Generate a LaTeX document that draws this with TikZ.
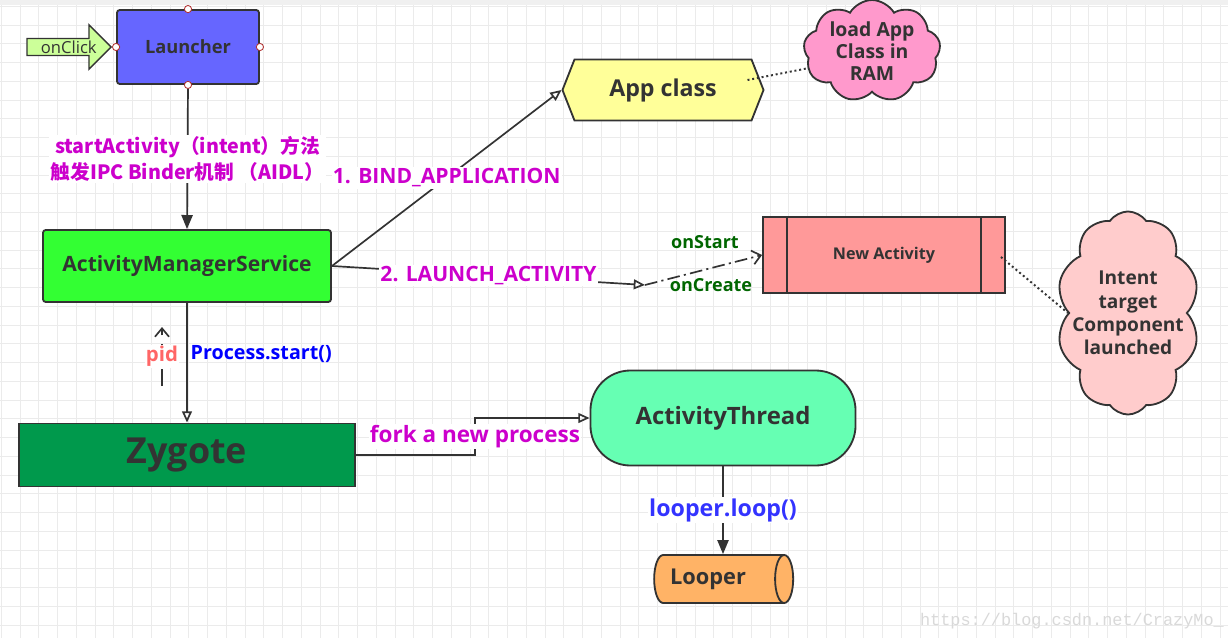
\documentclass[tikz,border=0pt]{standalone}
\usepackage{fontspec}
\setmainfont{Open Sans}
\newfontfamily\cjk{Noto Sans CJK SC}
\setmonofont{Liberation Mono}
\usetikzlibrary{arrows.meta,shapes.geometric,shapes.symbols,shapes.arrows,calc}

\definecolor{ink}{HTML}{333333}
\definecolor{gridgray}{HTML}{EBEBEB}
\definecolor{launcherblue}{HTML}{6666FF}
\definecolor{amsgreen}{HTML}{33FF33}
\definecolor{zygotegreen}{HTML}{00994C}
\definecolor{atgreen}{HTML}{66FFB3}
\definecolor{looperorange}{HTML}{FFB366}
\definecolor{newactred}{HTML}{FF9999}
\definecolor{appyellow}{HTML}{FFFF99}
\definecolor{ramcloud}{HTML}{FF99CC}
\definecolor{intentcloud}{HTML}{FFCCCC}
\definecolor{clickgreen}{HTML}{CCFF99}
\definecolor{handlered}{HTML}{B03030}
\definecolor{lblmagenta}{HTML}{CC00CC}
\definecolor{procblue}{HTML}{0000FF}
\definecolor{loopblue}{HTML}{3333FF}
\definecolor{pidred}{HTML}{FF6666}
\definecolor{ongreen}{HTML}{006600}

\tikzset{
  box/.style={draw=ink, line width=1.3pt, text=ink, font=\bfseries},
  handle/.style={circle, draw=handlered, fill=white, inner sep=0pt, minimum size=0.18cm, line width=0.6pt},
  conn/.style={draw=ink, line width=1.2pt},
  opentip/.style={-{Triangle[open, length=8pt, width=7pt]}},
  filltip/.style={-{Triangle[length=10pt, width=8pt]}},
  barbtip/.style={-{Straight Barb[length=6pt, width=10pt]}},
  lbl/.style={fill=white, inner sep=1pt, text=lblmagenta, font=\bfseries\fontsize{15}{18}\selectfont},
  onlbl/.style={text=ongreen, font=\bfseries\fontsize{12.8}{15}\selectfont},
  note/.style={draw=ink, line width=1.4pt, dotted},
}

\begin{document}
\begin{tikzpicture}[x=0.025cm, y=-0.025cm]
\useasboundingbox (0,0) rectangle (1228,638);
% background grid
\fill[white] (0,0) rectangle (1228,638);
\foreach \k in {0,...,65}
  \draw[gridgray, line width=0.7pt] ({1.25+18.75*\k},0) -- ({1.25+18.75*\k},638);
\foreach \k in {0,...,33}
  \draw[gridgray, line width=0.7pt] (0,{6.25+18.75*\k}) -- (1228,{6.25+18.75*\k});
\fill[gray!12] (0,0) rectangle (1228,5);

% nodes
\node[box, fill=launcherblue, rounded corners=2pt, minimum width=3.55cm, minimum height=1.85cm,
  font=\bfseries\fontsize{13}{15}\selectfont] (launcher) at (188,47) {Launcher};
\foreach \a in {north,south,east,west}
  \node[handle] (h\a) at (launcher.\a) {};
\node[single arrow, draw=ink, line width=1pt, fill=clickgreen, text=ink, inner sep=1pt,
  minimum height=2.1cm, minimum width=0.4cm, single arrow head extend=0.34cm,
  font=\fontsize{11.8}{13}\selectfont, anchor=tip] (click) at (hwest.west) {\hspace*{0.2cm}onClick};
\node[box, fill=amsgreen, rounded corners=2pt, minimum width=7.2cm, minimum height=1.8cm,
  font=\bfseries\fontsize{15}{18}\selectfont] (ams) at (187,266) {ActivityManagerService};
\node[box, fill=zygotegreen, minimum width=8.4cm, minimum height=1.575cm,
  font=\bfseries\fontsize{25.5}{30}\selectfont] (zygote) at (187,455) {Zygote};
\node[box, signal, signal to=west and east, signal pointer angle=137, fill=appyellow,
  minimum width=5.025cm, minimum height=1.525cm,
  font=\bfseries\fontsize{16.5}{19}\selectfont] (app) at (663,90) {App class};
\node[box, cloud, cloud puffs=9, cloud puff arc=120, aspect=1.5, fill=ramcloud, inner sep=0pt,
  minimum width=3.425cm, minimum height=2.325cm, align=center,
  font=\bfseries\fontsize{13.8}{15.5}\selectfont] (loadram) at (872,51) {load App\\Class in\\RAM};
\node[box, fill=newactred, minimum width=6.05cm, minimum height=1.9cm,
  font=\bfseries\fontsize{11.5}{14}\selectfont] (newact) at (884,255) {New Activity};
\draw[conn] ([xshift=0.625cm]newact.north west) -- ([xshift=0.625cm]newact.south west);
\draw[conn] ([xshift=-0.625cm]newact.north east) -- ([xshift=-0.625cm]newact.south east);
\node[box, cloud, cloud puffs=10, cloud puff arc=110, aspect=0.7, fill=intentcloud, inner sep=0pt,
  minimum width=3.575cm, minimum height=5.075cm] (intent) at (1128,313) {};
\node[align=center, text=ink, font=\bfseries\fontsize{13.6}{16.5}\selectfont] (intenttext) at (intent.center)
  {Intent\\target\\Component\\launched};
\node[box, fill=atgreen, rounded corners=1cm, minimum width=6.625cm, minimum height=2.375cm,
  font=\bfseries\fontsize{17}{20}\selectfont] (at) at (723,418) {ActivityThread};
\node[box, cylinder, aspect=0.6, fill=looperorange, minimum height=3.475cm, minimum width=1.2cm,
  font=\bfseries\fontsize{15.5}{18}\selectfont] (looper) at (716,579) {Looper\hspace*{0.4cm}};

% connectors
\draw[conn, filltip] (hsouth) -- node[lbl, align=center, font=\cjk\bfseries\fontsize{14}{18}\selectfont]
  {startActivity（intent）方法\\触发IPC Binder机制 （AIDL）} (ams.north);
\draw[conn, opentip] (ams.east) -- node[lbl] {1. BIND\_APPLICATION} (app.west);
\coordinate (lanarrow) at (645,285);
\draw[conn, opentip] (ams.east) -- node[lbl] {2. LAUNCH\_ACTIVITY} (lanarrow);
\draw[conn, dash pattern=on 9pt off 3pt on 1.5pt off 3pt, barbtip] (lanarrow) -- (newact.west);
\node[onlbl] (onstart) at (705,242) {onStart};
\node[onlbl] (oncreate) at (711,285) {onCreate};
\draw[note] ([xshift=-0.425cm, yshift=0.25cm]app.east) -- (loadram.195);
\draw[note] ([xshift=-0.125cm, yshift=-0.05cm]newact.east) -- (intent.west);
\draw[conn, opentip] (ams.south) -- node[pos=0.43, right, inner sep=2pt, text=procblue,
  font=\bfseries\fontsize{14}{17}\selectfont] {Process.start()} (zygote.north);
\coordinate (pidlo) at (162,386);
\coordinate (pidhi) at (162,327);
\draw[conn, dash pattern=on 12pt off 6pt, barbtip] (pidlo) -- node[fill=white, inner sep=1pt, text=pidred,
  font=\bfseries\fontsize{14.5}{17}\selectfont] {pid} (pidhi);
\draw[conn, opentip] (zygote.east) -- ++(119,0) |- node[pos=0.25, fill=white, inner sep=1pt, text=lblmagenta,
  font=\bfseries\fontsize{16}{19}\selectfont] {fork a new process} (at.west);
\draw[conn, filltip] (at.south) -- node[fill=white, inner sep=1pt, text=loopblue,
  font=\bfseries\fontsize{16.5}{19}\selectfont] {looper.loop()} (at.south |- looper.north);

\node[text=gray!30, font=\ttfamily\fontsize{12}{14}\selectfont] (wmark) at (1072,621) {https://blog.csdn.net/CrazyMo\_};
\end{tikzpicture}
\end{document}
